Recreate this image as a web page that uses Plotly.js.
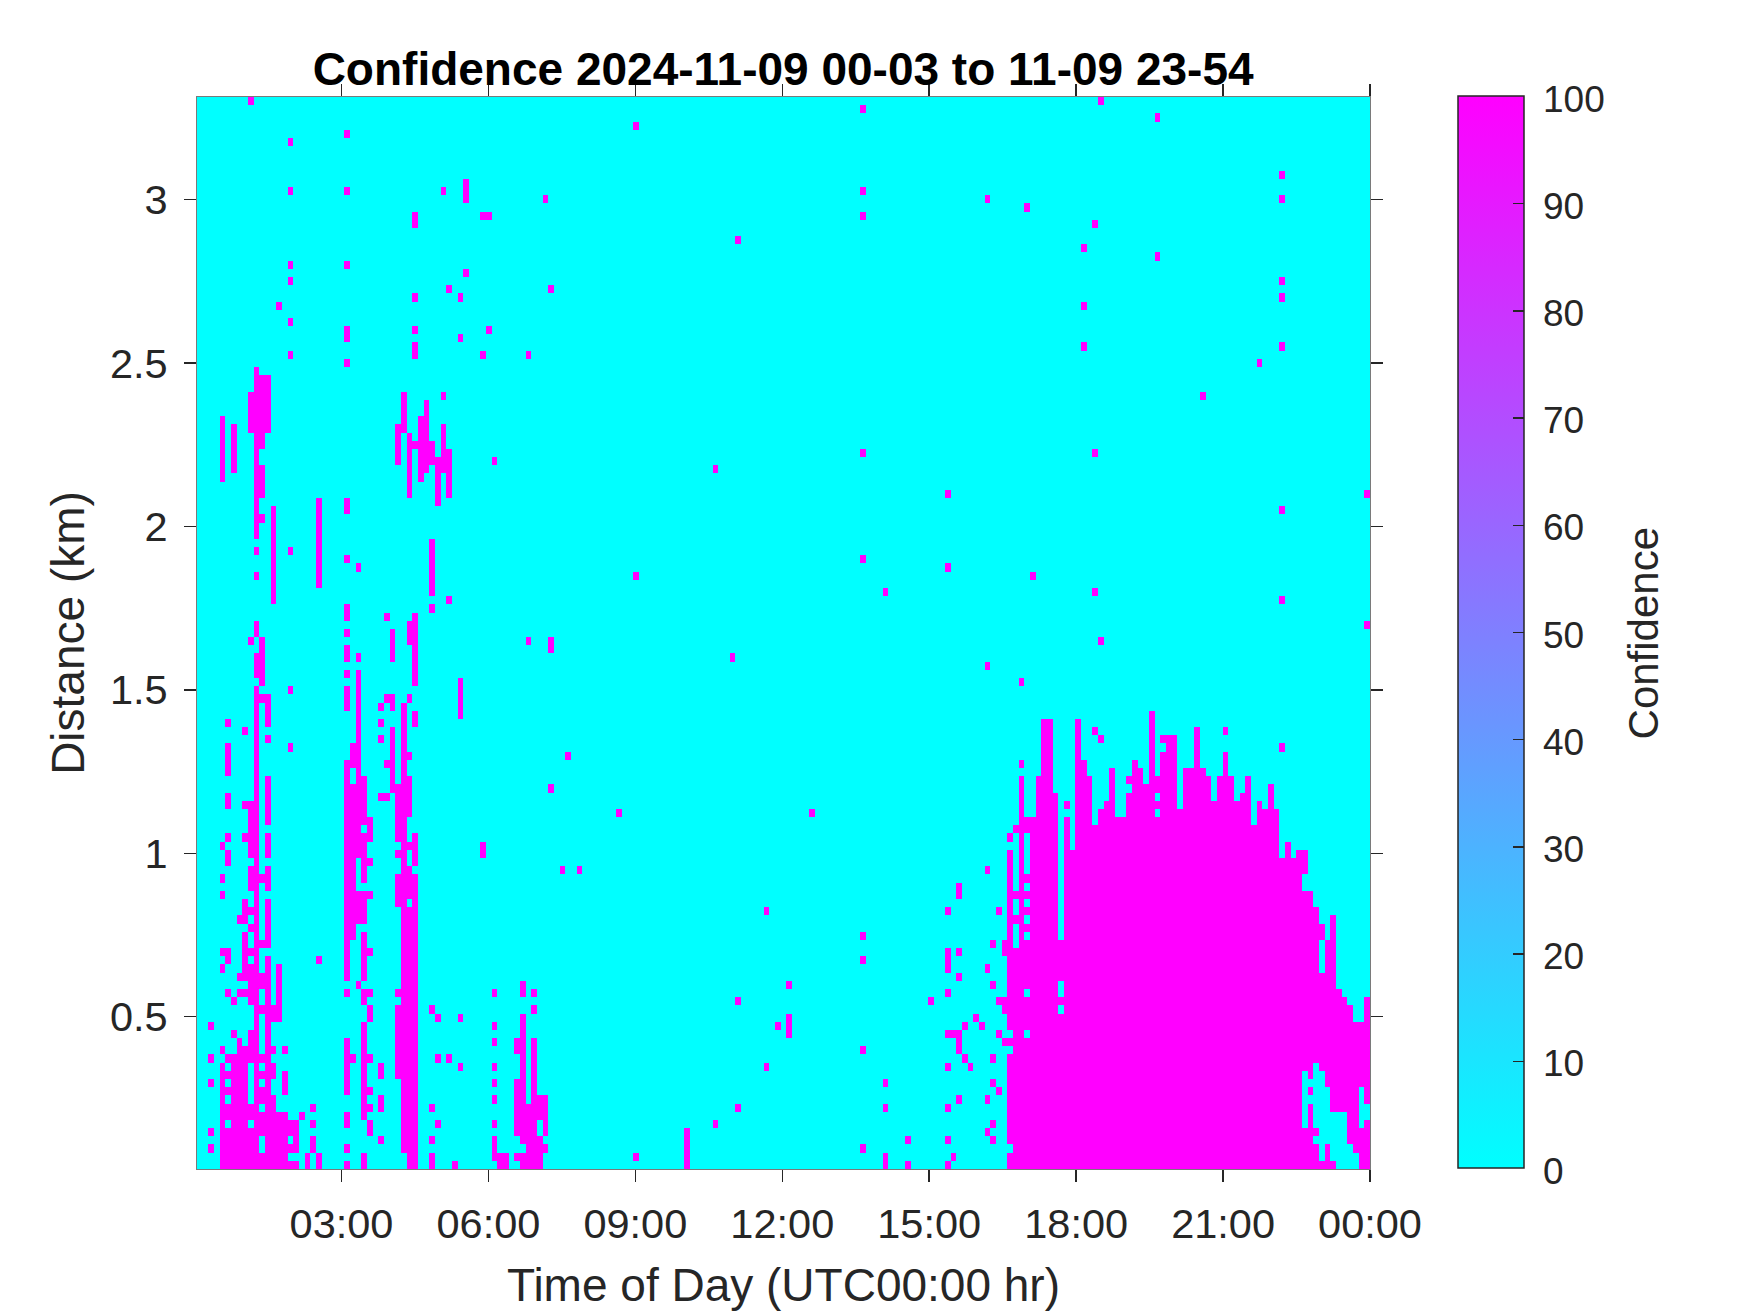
<!DOCTYPE html>
<html><head><meta charset="utf-8">
<script src="https://cdn.plot.ly/plotly-3.0.1.min.js"></script>
<style>html,body{margin:0;padding:0;background:#fff}#chart{width:1750px;height:1313px}</style>
</head><body><div id="chart"></div>
<script>
// Grid: time bins (columns) and range gates (rows, 0 = nearest)
const columnCount = 207;
const rowCount = 131;
const timeStart = 0.05, timeEnd = 24;
const distStart = 0.034, distEnd = 3.314;
const xTickValues = [3, 6, 9, 12, 15, 18, 21, 24];
const xTickLabels = ['03:00', '06:00', '09:00', '12:00', '15:00', '18:00', '21:00', '00:00'];
const yTickValues = [0.5, 1, 1.5, 2, 2.5, 3];
const yTickLabels = ['0.5', '1', '1.5', '2', '2.5', '3'];
const barTicks = [0, 10, 20, 30, 40, 50, 60, 70, 80, 90, 100];

// Each entry: [column, spans...]; a span is one row or [first, last] rows at 100 confidence
const earlyPlume = [
 [2,17,13,10,4,2],
 [4,[84,91],39,35,33,26,24,14,[0,12]],
 [5,54,[48,51],[44,45],40,[37,38],[25,26],21,13,11,9,[6,7],[0,4]],
 [6,[85,90],20,16,[0,13]],
 [7,30,23,21,[0,15]],
 [8,53,44,40,[31,32],30,[25,28],[23,24],21,[0,14]],
 [9,130,[90,94],64,[38,44],[34,36],31,29,26,[20,24],[13,16],[6,7],[0,4]],
 [10,97,[88,96],[86,87],[82,85],[77,81],75,72,[65,66],[60,62],[0,58]],
 [11,[90,96],[88,89],[82,85],79,[59,64],57,35,27,[22,23],19,13,11,[8,9],[4,6],[0,1]],
 [12,[90,96],57,[54,56],52,[42,47],[38,40],[34,36],[27,32],[20,25],[0,19]],
 [13,[69,80],[18,19],14,[11,12],[0,8]],
 [14,105,[18,24],[0,6]],
 [15,14,[9,11],[0,6]],
 [16,125,119,110,108,103,99,75,58,51,[4,5],2,0],
 [17,[2,5],0],
 [18,6],
 [19,[0,1]],
 [20,7,5,[2,3]],
 [21,[71,81],25,[0,1]]
];
const secondPlume = [
 [26,126,119,110,[101,102],98,[80,81],74,[67,68],65,[62,63],60,[56,58],[23,49],21,[9,15],[5,6],2,0],
 [27,[49,51],[28,46],13],
 [28,73,62,[38,60],[30,33],22],
 [29,[42,47],[39,40],[35,38],[30,33],[23,28],[20,21],[6,17],[0,1]],
 [30,[40,42],37,33,26,21,[18,19],13,9,7,[4,5]],
 [32,56,54,52,45,[11,12],[7,8],3],
 [33,67,57,49,45],
 [34,[62,65],[56,57],[46,53]],
 [35,[86,90],[40,46],38,[32,35],21,[11,19]],
 [36,[90,94],[55,56],[2,54]],
 [37,[82,89],[64,66],57,50,47,[43,46],39,[33,36],[0,31]],
 [38,[115,116],106,102,[99,100],88,[59,67],55,54,[37,40],[0,35]],
 [39,[84,91]],
 [40,[85,93]],
 [41,[86,88],[70,76],68,19,7,3,[0,1]],
 [42,[81,86],18,13,5],
 [43,119,94,[85,90]],
 [44,107,[82,87],69,13],
 [45,0],
 [46,106,101,[55,59],18,12],
 [47,[118,120],109],
 [50,116,99,[38,39]],
 [51,116,102],
 [52,86,21,17,15,12,10,8,5,[1,3]],
 [53,[0,1]],
 [54,[0,1]],
 [56,[14,15],[4,10],1],
 [57,[21,22],[3,18],[0,1]],
 [58,99,64,[0,7]],
 [59,21,19,[8,15],[0,7]],
 [60,[6,8],[0,3]],
 [61,118,[4,8],2],
 [62,107,[63,64],46],
 [64,36],
 [65,50],
 [67,36]
];
const scatteredMid = [
 [74,43],[77,127,72,1],[86,[0,4]],[91,85,5],[94,62],[95,113,20,7],[100,31,12],
 [102,17],[104,22,[16,18]],[108,43],[117,129,119,116,87,74,28,25,14,2],
 [121,70,10,7,[0,1]],[125,3,0],[129,20],
 [132,82,73,31,[24,26],21,16,12,7,3,0],[133,16,1],[134,[33,34],26,23,[14,16],8],
 [135,17,13],[136,12],[137,18],[138,17],[139,118,61,36,24,8,4],
 [140,27,22,13,10,5,3],[141,31,20,16,9],[142,[26,27],[19,20],15]
];
const scatteredHigh = [
 [143,40],[144,41,33,30],[145,59,49],[146,117],[147,72],[153,44],
 [156,112,105,100],[158,115,87,70,53],[159,130,64,52],
 [169,128,111],[177,94],[181,53],[187,98],[191,121,118,108,106,100,80,69,51],
 [206,82,66]
];
// Top filled row of the afternoon cloud mass, columns 143 to 206
const moundFirstColumn = 143;
const moundTops = [38,26,47,42,42,47,54,54,45,27,42,38,54,49,47,41,43,44,48,42,42,47,49,48,46,55,47,52,52,52,43,48,48,53,48,47,44,47,50,47,44,45,47,41,44,43,46,43,37,39,37,38,38,33,31,29,27,30,21,20,19,17,17,20];
// Gaps inside the mass: [column, spans...]
const moundHoles = [
 [143,16,14,2],[146,[36,40],34,32,30,28,21,16],[152,[21,22],19],[153,43],[164,46],
 [169,45,43],[170,51],[195,[34,35],[5,11]],[196,10,8],[197,[5,12],3],
 [198,[24,27],[1,11]],[199,[3,9]],[200,[1,6]],[201,[0,6]],[202,[0,6]],
 [203,[0,2]],[204,[0,1]],[205,[5,9]],[206,[6,7]]
];

// Build the matrix from the lists above
const z = Array.from({length: rowCount}, () => new Array(columnCount).fill(0));
function apply(list, value) {
  list.forEach(entry => {
    const k = entry[0];
    entry.slice(1).forEach(s => {
      const a = Array.isArray(s) ? s[0] : s, b = Array.isArray(s) ? s[1] : s;
      for (let r = a; r <= b; r++) if (z[r] && k < columnCount) z[r][k] = value;
    });
  });
}
apply(earlyPlume, 100);
apply(secondPlume, 100);
apply(scatteredMid, 100);
apply(moundTops.map((top, i) => [moundFirstColumn + i, [0, top]]), 100);
apply(moundHoles, 0);
apply(scatteredHigh, 100);

const xEdges = Array.from({length: columnCount + 1}, (_, i) => timeStart + i * (timeEnd - timeStart) / columnCount);
const yEdges = Array.from({length: rowCount + 1}, (_, i) => distStart + i * (distEnd - distStart) / rowCount);

const ink = '#262626';
const fontFamily = '"Liberation Sans", Arial, sans-serif';
const trace = {
  type: 'heatmap', x: xEdges, y: yEdges, z: z, zmin: 0, zmax: 100, zsmooth: false,
  colorscale: [[0, '#00ffff'], [1, '#ff00ff']],
  colorbar: {
    xref: 'paper', x: 1.0749, xanchor: 'left', xpad: 0, ypad: 0,
    yref: 'paper', y: 0.0005, yanchor: 'bottom',
    lenmode: 'pixels', len: 1072, thicknessmode: 'pixels', thickness: 66,
    outlinecolor: ink, outlinewidth: 1.5,
    ticks: 'inside', ticklen: 11, tickwidth: 1.5, tickcolor: ink,
    tickvals: barTicks, showticklabels: false
  }
};
const axisCommon = {
  showgrid: false, zeroline: false, showline: true, linecolor: '#7a7a7a', linewidth: 1,
  mirror: 'ticks', ticks: 'outside', ticklen: 12, tickwidth: 1.5, tickcolor: ink
};
const barLabels = barTicks.map(v => ({
  text: String(v), xref: 'paper', yref: 'paper', x: 1.1455, y: v / 100, yshift: -2,
  xanchor: 'left', yanchor: 'middle', showarrow: false,
  font: {family: fontFamily, size: 37, color: ink}
}));
const layout = {
  width: 1750, height: 1313, paper_bgcolor: '#fff', plot_bgcolor: '#00ffff',
  margin: {l: 196.5, r: 380, t: 97.3, b: 143.7},
  title: {text: 'Confidence 2024-11-09 00-03 to 11-09 23-54',
    font: {family: fontFamily, size: 46, color: '#000', weight: 'bold'},
    x: 0.4475, xanchor: 'center', y: 0.9475, yanchor: 'middle', xref: 'container', yref: 'container'},
  xaxis: Object.assign({}, axisCommon, {range: [timeStart, timeEnd], tickmode: 'array',
    tickvals: xTickValues, ticktext: xTickLabels, ticklabelstandoff: 6,
    tickfont: {family: fontFamily, size: 41.5, color: ink},
    title: {text: 'Time of Day (UTC00:00 hr)', standoff: 23, font: {family: fontFamily, size: 46, color: ink}}}),
  yaxis: Object.assign({}, axisCommon, {range: [distStart, distEnd], tickmode: 'array',
    tickvals: yTickValues, ticktext: yTickLabels, ticklabelstandoff: 8,
    tickfont: {family: fontFamily, size: 41.5, color: ink},
    title: {text: 'Distance (km)', standoff: 10, font: {family: fontFamily, size: 46, color: ink}}}),
  annotations: barLabels.concat([{text: 'Confidence', textangle: -90, xref: 'paper', yref: 'paper', x: 1.2335, y: 0.4995,
    xanchor: 'center', yanchor: 'middle', showarrow: false,
    font: {family: fontFamily, size: 42, color: ink}}])
};
Plotly.newPlot('chart', [trace], layout, {displayModeBar: false, staticPlot: true});
</script></body></html>
